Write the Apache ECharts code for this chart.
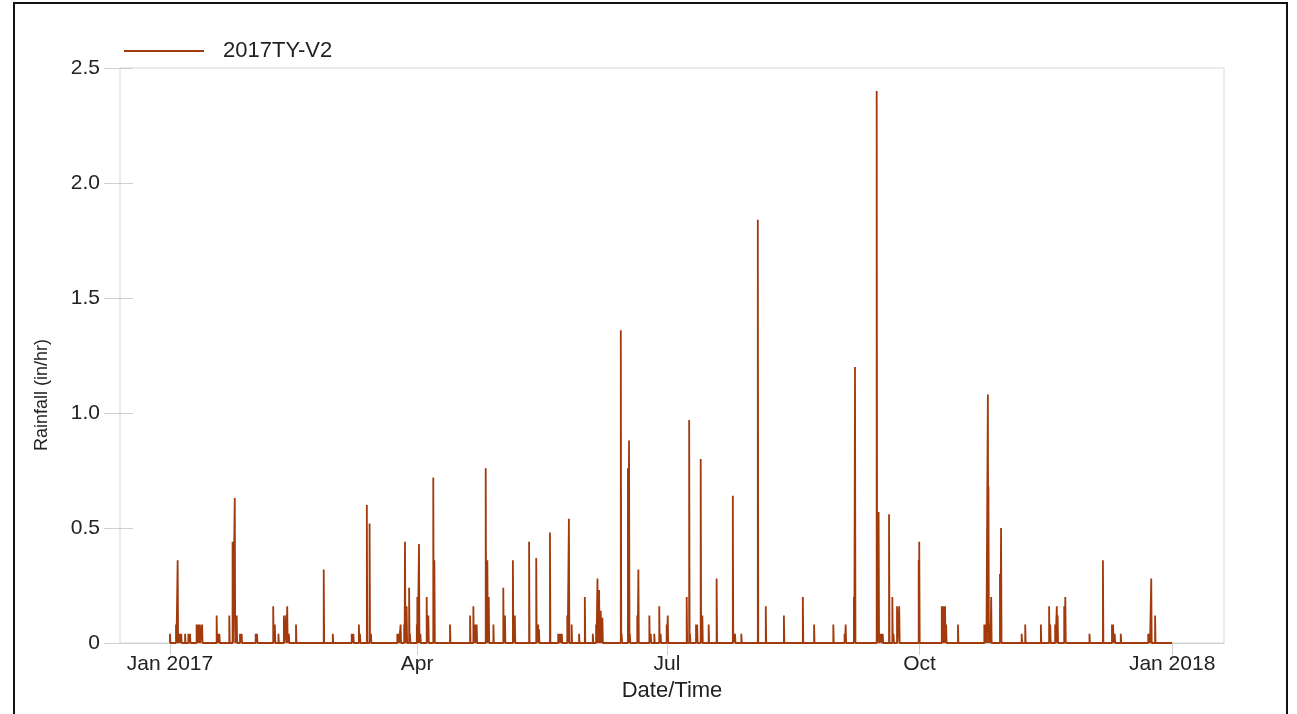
<!DOCTYPE html>
<html>
<head>
<meta charset="utf-8">
<script src="https://cdn.jsdelivr.net/npm/echarts@6/dist/echarts.min.js"></script>
<style>
html,body{margin:0;padding:0;background:#fff;}
#chart{width:1297px;height:714px;}
</style>
</head>
<body>
<div id="chart"></div>
<script>
// Rain events: day offset from 2017-01-01 (local) and rainfall intensity (in/hr)
const seriesName = '2017TY-V2';
const eventDays = [
  0.0, 2.2, 2.8, 3.5, 4.1, 5.5, 6.7, 7.3, 9.7, 10.3, 10.9, 11.7, 17.0, 17.6, 18.0,
  21.6, 22.8, 23.6, 24.3, 25.5, 26.1, 31.2, 31.7, 37.6, 38.2, 39.5, 41.5, 42.3, 42.7, 43.3, 45.9,
  56.0, 59.3, 66.2, 66.8, 68.8, 69.2, 71.7, 72.7, 73.2,
  82.8, 83.3, 84.0, 85.3, 85.6, 86.2, 87.1, 87.4, 89.9, 90.1, 90.7, 91.2, 93.5, 94.1, 95.9, 96.3,
  102.0, 109.3, 110.5, 111.1, 111.7, 115.0, 115.6, 116.1, 117.8, 121.4, 122.0, 124.9, 125.6,
  130.8, 133.4, 134.1, 134.4, 138.4, 141.4, 142.1, 142.7, 144.7, 145.3, 146.3,
  149.0, 151.1, 154.0, 155.2, 155.7, 156.3, 156.9, 157.5, 164.2, 164.5, 166.8, 167.2, 167.5,
  170.2, 170.6, 174.6, 175.1, 176.4, 178.2, 178.7, 180.9, 181.3, 188.2, 189.1, 189.4,
  191.6, 192.0, 193.3, 193.9, 196.2, 199.1, 205.0, 205.8, 208.1, 214.1, 217.0,
  223.6, 230.5, 234.6, 241.6, 245.7, 246.1, 249.1, 249.5, 257.4, 258.1, 258.9, 259.6,
  261.9, 263.1, 263.5, 264.8, 265.6, 272.7, 272.9, 281.1, 281.7, 282.3, 282.7, 287.0,
  296.6, 297.2, 297.9, 298.1, 298.7, 299.1, 302.3, 302.7, 310.2, 311.5, 317.2,
  320.2, 320.6, 322.4, 323.0, 323.3, 325.7, 326.1, 334.9, 339.8, 343.1, 343.5, 344.1, 346.3,
  356.3, 356.8, 357.4, 358.8
];
const eventValues = [
  0.04, 0.08, 0.36, 0.04, 0.04, 0.04, 0.04, 0.04, 0.08, 0.08, 0.08, 0.08, 0.12, 0.04, 0.04,
  0.12, 0.44, 0.63, 0.12, 0.04, 0.04, 0.04, 0.04, 0.16, 0.08, 0.04, 0.12, 0.12, 0.16, 0.04, 0.08,
  0.32, 0.04, 0.04, 0.04, 0.08, 0.04, 0.60, 0.52, 0.04,
  0.04, 0.04, 0.08, 0.08, 0.44, 0.16, 0.24, 0.04, 0.08, 0.20, 0.43, 0.04, 0.20, 0.12, 0.72, 0.36,
  0.08, 0.12, 0.16, 0.08, 0.08, 0.76, 0.36, 0.20, 0.08, 0.24, 0.12, 0.36, 0.12,
  0.44, 0.37, 0.08, 0.06, 0.48, 0.04, 0.04, 0.04, 0.12, 0.54, 0.08,
  0.04, 0.20, 0.04, 0.08, 0.28, 0.23, 0.14, 0.11, 1.36, 0.04, 0.76, 0.88, 0.04,
  0.12, 0.32, 0.12, 0.04, 0.04, 0.16, 0.04, 0.08, 0.12, 0.20, 0.97, 0.04,
  0.08, 0.08, 0.80, 0.12, 0.08, 0.28, 0.64, 0.04, 0.04, 1.84, 0.16,
  0.12, 0.20, 0.08, 0.08, 0.04, 0.08, 0.20, 1.20, 2.40, 0.57, 0.04, 0.04,
  0.56, 0.20, 0.04, 0.16, 0.16, 0.36, 0.44, 0.16, 0.16, 0.16, 0.08, 0.08,
  0.08, 0.08, 1.08, 0.68, 0.08, 0.20, 0.30, 0.50, 0.04, 0.08, 0.08,
  0.16, 0.08, 0.08, 0.16, 0.12, 0.16, 0.20, 0.04, 0.36, 0.08, 0.08, 0.04, 0.04,
  0.04, 0.04, 0.28, 0.12
];
const tickDates = [[2017,0,1],[2017,3,1],[2017,6,1],[2017,9,1],[2018,0,1]];
const tickLabels = ['Jan 2017','Apr','Jul','Oct','Jan 2018'];

const DAY = 86400000;
const origin = new Date(2017,0,1).getTime();
const toMs = d => origin + d * DAY;
const tickMs = tickDates.map(t => new Date(t[0], t[1], t[2]).getTime());

// Build hyetograph line: zero baseline with each interval as a narrow pulse
const pulse = DAY / 6;
const lineData = [[origin, 0]];
eventDays.forEach((d, i) => {
  const t = toMs(d);
  lineData.push([t, 0], [t, eventValues[i]], [t + pulse, eventValues[i]], [t + pulse, 0]);
});
lineData.push([tickMs[tickMs.length - 1], 0]);

const color = '#A23A0C';
const font = 'Arial, "Liberation Sans", sans-serif';
const labelFor = v => { let k = 0, best = Infinity; tickMs.forEach((t, i) => { const dd = Math.abs(t - v); if (dd < best) { best = dd; k = i; } }); return tickLabels[k]; };

const chart = echarts.init(document.getElementById('chart'), null, {renderer: 'canvas'});
chart.setOption({
  animation: false,
  backgroundColor: '#fff',
  grid: {left: 120, right: 73, top: 68, bottom: 71, show: true, borderColor: '#d9d9d9', borderWidth: 1, backgroundColor: 'transparent'},
  legend: {
    left: 119, top: 35, itemWidth: 80, itemHeight: 2, icon: 'rect',
    data: [{name: seriesName, icon: 'rect'}],
    textStyle: {fontFamily: font, fontSize: 22, color: '#222', padding: [0,0,0,14]}
  },
  xAxis: {
    type: 'value',
    min: toMs(-18.2), max: toMs(383.9),
    name: 'Date/Time', nameLocation: 'middle', nameGap: 37,
    nameTextStyle: {fontFamily: font, fontSize: 22, color: '#222'},
    axisLine: {show: true, onZero: false, lineStyle: {color: '#cfcfcf', width: 1}},
    axisTick: {show: true, length: 12, customValues: tickMs, lineStyle: {color: '#cfcfcf'}},
    axisLabel: {customValues: tickMs, margin: 11, fontFamily: font, fontSize: 21, color: '#222', formatter: labelFor},
    splitLine: {show: false}
  },
  yAxis: [{
    type: 'value', min: 0, max: 2.5, interval: 0.5,
    axisLine: {show: false},
    axisTick: {show: true, length: 16, lineStyle: {color: '#cfcfcf'}},
    axisLabel: {margin: 20, fontFamily: font, fontSize: 21, color: '#222', formatter: v => v === 0 ? '0' : v.toFixed(1)},
    splitLine: {show: false}
  }, {
    type: 'value', min: 0, max: 2.5, interval: 0.5, position: 'left',
    axisLine: {show: false},
    axisTick: {show: true, inside: true, length: 13, lineStyle: {color: '#cfcfcf'}},
    axisLabel: {show: false},
    splitLine: {show: false}
  }],
  graphic: [
    {type: 'text', x: 42, y: 395, rotation: Math.PI / 2,
     style: {text: 'Rainfall (in/hr)', fontFamily: font, fontSize: 18, fill: '#222', align: 'center', verticalAlign: 'middle'}},
    {type: 'rect', shape: {x: 14, y: 3, width: 1273, height: 720}, style: {fill: 'none', stroke: '#111', lineWidth: 2}, z: 100}
  ],
  series: [{
    name: seriesName, type: 'line', data: lineData, showSymbol: false, symbol: 'none',
    lineStyle: {color: color, width: 1.8}, itemStyle: {color: color},
    emphasis: {disabled: true}
  }]
});
</script>
</body>
</html>
